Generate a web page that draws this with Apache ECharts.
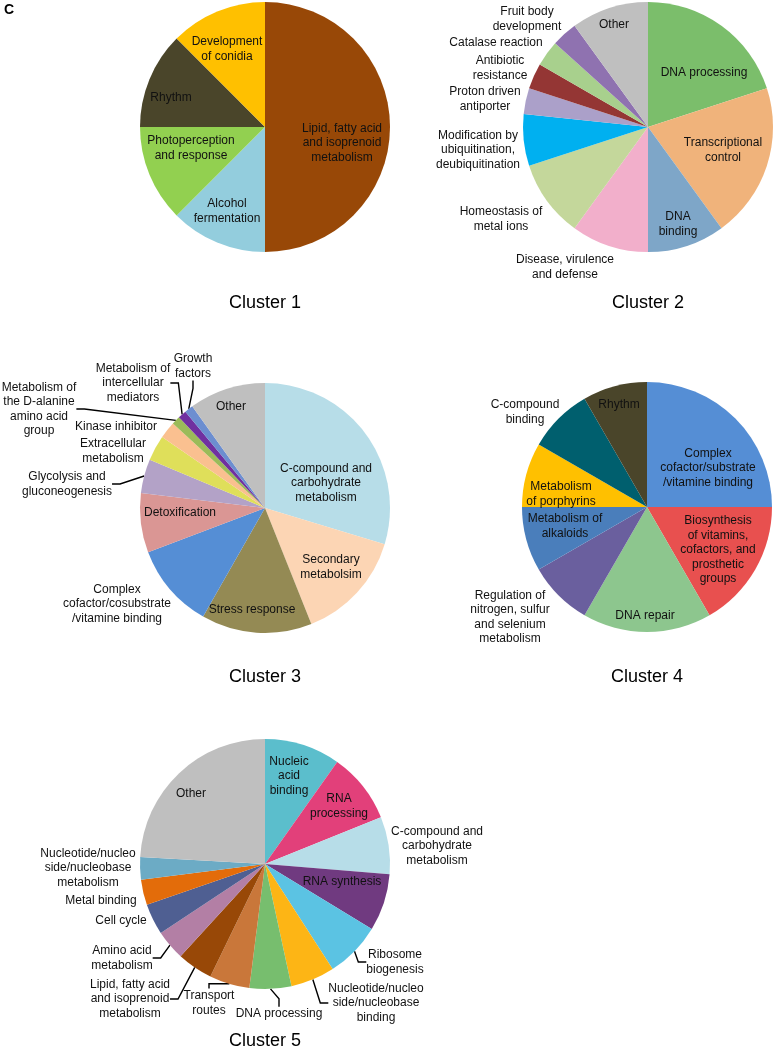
<!DOCTYPE html>
<html>
<head>
<meta charset="utf-8">
<script src="https://cdn.jsdelivr.net/npm/echarts@6/dist/echarts.min.js"></script>
<style>
html, body { margin: 0; padding: 0; background: #fff; }
#chart { width: 775px; height: 1050px; }
</style>
</head>
<body>
<div id="chart"></div>
<script>
// ---- data (clockwise from 12 o'clock) ----
var c1Names = ['Lipid, fatty acid\nand isoprenoid\nmetabolism', 'Alcohol\nfermentation', 'Photoperception\nand response', 'Rhythm', 'Development\nof conidia'];
var c1Values = [4, 1, 1, 1, 1];

var c2Names = ['DNA processing', 'Transcriptional\ncontrol', 'DNA\nbinding', 'Disease, virulence\nand defense', 'Homeostasis of\nmetal ions',
    'Modification by\nubiquitination,\ndeubiquitination', 'Proton driven\nantiporter', 'Antibiotic\nresistance', 'Catalase reaction',
    'Fruit body\ndevelopment', 'Other'];
var c2Values = [6, 6, 3, 3, 3, 2, 1, 1, 1, 1, 3];

var c3Names = ['C-compound and\ncarbohydrate\nmetabolism', 'Secondary\nmetabolsim', 'Stress response', 'Complex\ncofactor/cosubstrate\n/vitamine binding',
    'Detoxification', 'Glycolysis and\ngluconeogenesis', 'Extracellular\nmetabolism', 'Kinase inhibitor',
    'Metabolism of\nthe D-alanine\namino acid\ngroup', 'Metabolism of\nintercellular\nmediators', 'Growth\nfactors', 'Other'];
var c3Values = [27, 13, 13, 10, 7, 4, 3, 2, 1, 1, 1, 9];

var c4Names = ['Complex\ncofactor/substrate\n/vitamine binding', 'Biosynthesis\nof vitamins,\ncofactors, and\nprosthetic\ngroups', 'DNA repair',
    'Regulation of\nnitrogen, sulfur\nand selenium\nmetabolism', 'Metabolism of\nalkaloids', 'Metabolism\nof porphyrins', 'C-compound\nbinding', 'Rhythm'];
var c4Values = [3, 2, 2, 1, 1, 1, 1, 1];

var c5Names = ['Nucleic\nacid\nbinding', 'RNA\nprocessing', 'C-compound and\ncarbohydrate\nmetabolism', 'RNA synthesis', 'Ribosome\nbiogenesis',
    'Nucleotide/nucleo\nside/nucleobase\nbinding', 'DNA processing', 'Transport\nroutes', 'Lipid, fatty acid\nand isoprenoid\nmetabolism',
    'Amino acid\nmetabolism', 'Cell cycle', 'Metal binding', 'Nucleotide/nucleo\nside/nucleobase\nmetabolism', 'Other'];
var c5Values = [9.8, 9.1, 7.4, 7.4, 7.2, 5.7, 5.4, 5.2, 4.6, 3.9, 4.0, 3.3, 2.9, 24.1];

var clusterTitles = ['Cluster 1', 'Cluster 2', 'Cluster 3', 'Cluster 4', 'Cluster 5'];

// ---- styles ----
var c1Colors = ['#984807', '#93CDDD', '#92D050', '#4A452A', '#FFC000'];
var c2Colors = ['#7BBE6B', '#F0B37B', '#7EA6C8', '#F2AFCB', '#C4D79B', '#00B0F0', '#ABA0C9', '#943634', '#A8D08D', '#8F72B0', '#BFBFBF'];
var c3Colors = ['#B7DDE8', '#FCD5B4', '#948A54', '#558ED5', '#DA9694', '#B3A2C7', '#DFDF5A', '#FAC090', '#9BBB59', '#7030A0', '#6C8ED0', '#BFBFBF'];
var c4Colors = ['#558ED5', '#E8504F', '#8DC68E', '#6A5F9E', '#4A7EBB', '#FFC000', '#005F6E', '#4A452A'];
var c5Colors = ['#5BBECC', '#E2407A', '#B7DDE8', '#703A80', '#5BC3E3', '#FDB515', '#77BE6E', '#C9773A', '#984807', '#B37FA5', '#4F5F92', '#E36C0A', '#6CABC5', '#BFBFBF'];

// label centres (text layout only)
var c1Lab = [[342, 143], [227, 211], [191, 148], [171, 98], [227, 49]];
var c2Lab = [[704, 73], [723, 150], [678, 224], [565, 267], [501, 219], [478, 150], [485, 99], [500, 68], [496, 43], [527, 19], [614, 25]];
var c3Lab = [[326, 483], [331, 567], [252, 610], [117, 604], [180, 513], [67, 484], [113, 451], [116, 427], [39, 409], [133, 383], [193, 366], [231, 407]];
var c4Lab = [[708, 468], [718, 550], [645, 616], [510, 617], [565, 526], [561, 494], [525, 412], [619, 405]];
var c5Lab = [[289, 776], [339, 806], [437, 846], [342, 882], [395, 962], [376, 1003], [279, 1014], [209, 1003], [130, 999], [122, 958], [121, 921], [101, 901], [88, 868], [191, 794]];

var FONT = '"Liberation Sans", Arial, sans-serif';

function makePie(names, values, colors, labPos, center, leaders) {
    var data = names.map(function (n, i) {
        return {
            name: n,
            value: values[i],
            itemStyle: { color: colors[i] },
            labelLine: { show: leaders.indexOf(i) >= 0 }
        };
    });
    return {
        type: 'pie',
        center: center,
        radius: 125,
        startAngle: 90,
        clockwise: true,
        avoidLabelOverlap: false,
        animation: false,
        itemStyle: { borderWidth: 0 },
        label: {
            show: true,
            position: 'outside',
            overflow: 'none',
            formatter: '{b}',
            color: '#111',
            fontFamily: FONT,
            fontSize: 12,
            lineHeight: 14.5,
            align: 'center'
        },
        labelLine: {
            show: false,
            length: 8,
            length2: 8,
            lineStyle: { color: '#000', width: 1.4 }
        },
        labelLayout: function (p) {
            var xy = labPos[p.dataIndex];
            return { x: xy[0], y: xy[1], align: 'center', verticalAlign: 'middle' };
        },
        emphasis: { disabled: true },
        data: data
    };
}

var titlePos = [[265, 303], [648, 303], [265, 677], [647, 677], [265, 1041]];

var myChart = echarts.init(document.getElementById('chart'), null, { renderer: 'canvas' });
myChart.setOption({
    backgroundColor: '#fff',
    animation: false,
    graphic: [{
        type: 'text', left: 4, top: 3,
        style: { text: 'C', font: 'bold 14px ' + FONT, fill: '#000' }
    }].concat(clusterTitles.map(function (t, i) {
        return {
            type: 'text', x: titlePos[i][0], y: titlePos[i][1],
            style: { text: t, font: '18px ' + FONT, fill: '#000', align: 'center', verticalAlign: 'middle' }
        };
    })),
    series: [
        makePie(c1Names, c1Values, c1Colors, c1Lab, [265, 127], []),
        makePie(c2Names, c2Values, c2Colors, c2Lab, [648, 127], []),
        makePie(c3Names, c3Values, c3Colors, c3Lab, [265, 508], [5, 8, 9, 10]),
        makePie(c4Names, c4Values, c4Colors, c4Lab, [647, 507], []),
        makePie(c5Names, c5Values, c5Colors, c5Lab, [265, 864], [4, 5, 6, 7, 8, 9])
    ]
});
</script>
</body>
</html>
